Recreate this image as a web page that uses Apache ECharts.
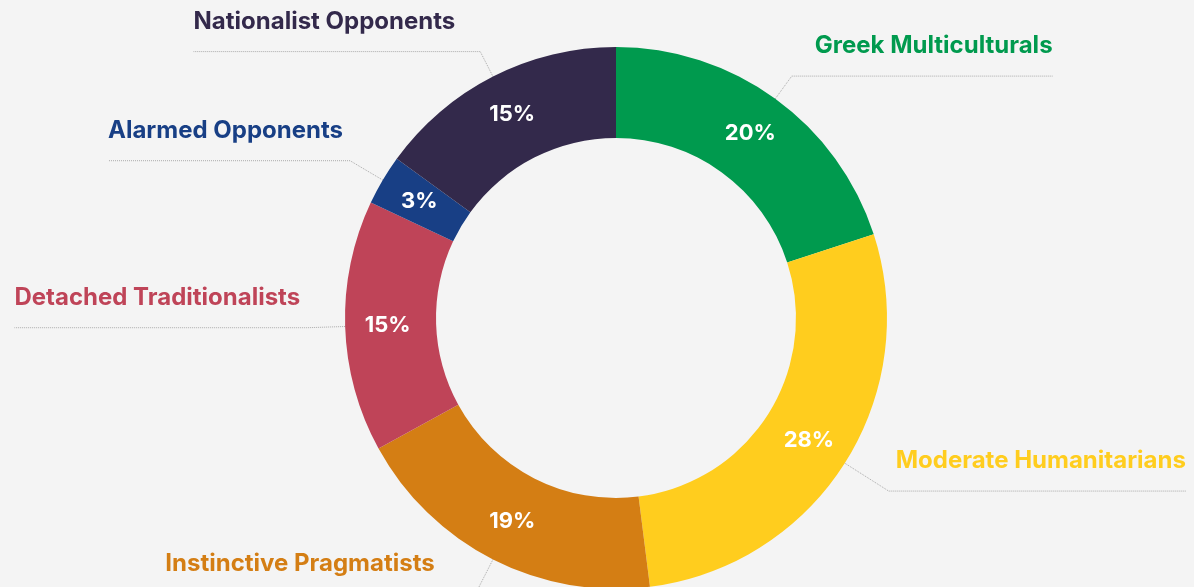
<!DOCTYPE html>
<html>
<head>
<meta charset="utf-8">
<script src="https://cdn.jsdelivr.net/npm/echarts@6/dist/echarts.min.js"></script>
<style>
  html, body { margin: 0; padding: 0; background: #f4f4f4; overflow: hidden; }
  /* the original is cropped at the bottom, so the chart is a bit taller than the window */
  #chart { width: 1194px; height: 660px; }
</style>
</head>
<body>
<div id="chart"></div>
<script>
// segment names, shares (%) and colours, clockwise from the top
const segments = ['Greek Multiculturals', 'Moderate Humanitarians', 'Instinctive Pragmatists', 'Detached Traditionalists', 'Alarmed Opponents', 'Nationalist Opponents']
const shares = [20, 28, 19, 15, 3, 15]
const colors = ['#009a4e', '#ffcd1e', '#d47e14', '#bf4458', '#183f85', '#33294b']

// leader lines that are drawn a bit differently in the original
const leaderTweaks = {
  'Greek Multiculturals': { length: 28, length2: 18 },
  'Moderate Humanitarians': { length: 52 },
  'Instinctive Pragmatists': { length2: 36 },
  'Nationalist Opponents': { length: 28, length2: 20 }
}

const font = 'Inter, Lato, "Noto Sans", sans-serif'
const chart = echarts.init(document.getElementById('chart'))

const ringData = segments.map((name, i) => ({
  name,
  value: shares[i],
  itemStyle: { color: colors[i] }
}))
// same slices, only used to carry the outside labels
const labelData = segments.map((name, i) => {
  const item = { name, value: shares[i], label: { color: colors[i] } }
  if (leaderTweaks[name]) item.labelLine = leaderTweaks[name]
  return item
})

chart.setOption({
  backgroundColor: '#f4f4f4',
  animation: false,
  series: [
    {
      type: 'pie',
      center: [616, 318],
      radius: [180, 271],
      startAngle: 90,
      silent: true,
      label: {
        position: 'inside',
        formatter: '{c}%',
        color: '#fff',
        fontFamily: font,
        fontWeight: 'bold',
        fontSize: 22
      },
      labelLine: { show: false },
      data: ringData
    },
    {
      type: 'pie',
      center: [616, 318],
      radius: [180, 271],
      startAngle: 90,
      silent: true,
      itemStyle: { color: 'transparent' },
      label: {
        position: 'outside',
        formatter: '{b}',
        fontFamily: font,
        fontWeight: 'bold',
        fontSize: 24,
        overflow: 'none',
        distanceToLabelLine: 5
      },
      labelLine: {
        show: true,
        length: 38,
        length2: 2,
        lineStyle: { color: '#aaa', width: 1, type: 'dotted' }
      },
      labelLayout: function (params) {
        const pts = params.labelLinePoints
        if (!pts) return
        const r = params.labelRect
        const isLeft = r.x + r.width / 2 < 616
        pts[2][0] = isLeft ? r.x : r.x + r.width
        return { labelLinePoints: pts, dy: -30 }
      },
      data: labelData
    }
  ]
})
</script>
</body>
</html>
